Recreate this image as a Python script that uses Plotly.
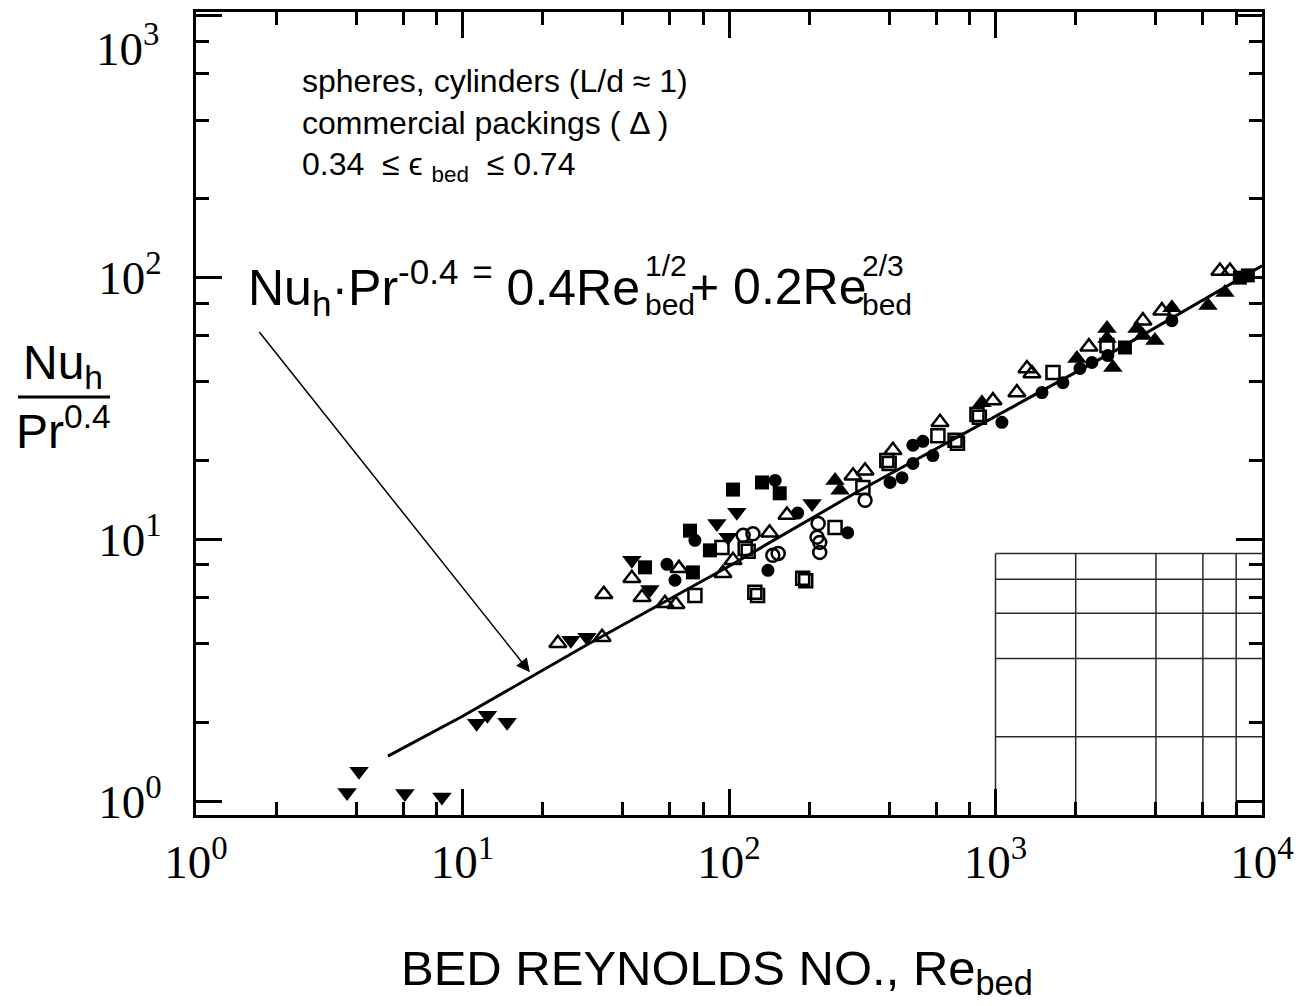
import math
import plotly.graph_objects as go

# ---------------- data ----------------
# filled down-triangles
fdown_re = [3.69, 4.09, 6.08, 8.37, 11.3, 12.4, 14.7, 25.5, 29.3, 43.2, 50.5, 90.1, 107, 99.1, 205]
fdown_nu = [1.08, 1.30, 1.07, 1.036, 1.985, 2.13, 2.00, 4.12, 4.23, 8.32, 6.44, 11.5, 12.7, 10.2, 13.7]

# filled squares
fsq_re = [48.4, 73.2, 71.4, 84.8, 103.5, 133, 155, 3060, 8260, 8850]
fsq_nu = [7.82, 7.48, 10.8, 9.08, 15.5, 16.5, 15.0, 54.1, 100, 102]

# filled circles
fcirc_re = [58.5, 62.7, 74.5, 149, 140, 181, 279, 402, 446, 490, 582, 490, 534,
            1057, 1494, 1791, 2075, 2300, 2640, 4590]
fcirc_nu = [8.03, 6.98, 9.92, 16.8, 7.62, 12.6, 10.6, 16.5, 17.2, 19.5, 20.9, 22.9, 23.7,
            28.0, 36.4, 39.7, 45.0, 47.4, 50.4, 68.5]

# open circles
ocirc_re = [113, 123, 146, 153, 216, 214, 219, 219, 324]
ocirc_nu = [10.36, 10.5, 8.69, 8.84, 11.5, 10.2, 9.74, 8.92, 14.1]

# open squares (several appear doubled)
osq_re = [74.5, 94.1, 115, 118, 125, 128, 189, 194, 250, 318, 391, 399, 608, 705, 720,
          852, 870, 1643, 2620]
osq_nu = [6.11, 9.32, 9.24, 9.0, 6.28, 6.1, 7.10, 6.95, 11.1, 15.8, 20.0, 19.5, 24.9, 23.9, 23.3,
          30.0, 29.3, 43.4, 55.0]

# open up-triangles (commercial packings)
otri_re = [22.8, 33.4, 33.9, 43.2, 47.2, 57.5, 63.2, 64.9, 94.9, 103.5, 142, 165, 292, 324,
           412, 619, 978, 1203, 1312, 1370, 2241, 3573, 4210, 6950, 7580]
otri_nu = [4.01, 4.23, 6.17, 7.10, 6.01, 5.70, 5.65, 7.75, 7.42, 8.32, 10.6, 12.4, 17.5, 18.3,
           21.9, 28.0, 33.9, 36.4, 45.0, 43.0, 54.5, 68.5, 74.8, 106, 106]

# filled up-triangles
ftri_re = [250, 261, 889, 2021, 2620, 2620, 2757, 3395, 3573, 3964, 4590, 6270, 7260]
ftri_nu = [16.8, 15.4, 33.3, 49.1, 63.9, 58.5, 45.4, 63.9, 60.1, 57.5, 76.8, 78.2, 87.7]

# correlation line  Nu_h Pr^-0.4 = 0.4 Re^1/2 + 0.2 Re^2/3
line_re = [5.25, 10, 30, 100, 300, 1000, 3000, 10000]
line_nu = [1.485, 2.11, 4.01, 7.9, 15.1, 29.5, 54.5, 111]

# arrow (tail -> head)
arrow_tail = (1.71, 62.8)
arrow_head = (17.9, 3.11)

# scanned graph-paper patch in lower right
patch_x = [1000, 2000, 4000, 6000, 8000]
patch_y = [1.76, 3.51, 5.22, 7.04, 8.84]

# axes
x_range_log = [0, 4]
y_range_log = [-0.053, 3.015]
x_major_vals = [1, 10, 100, 1000, 10000]
x_major_text = ["10<sup>0</sup>", "10<sup>1</sup>", "10<sup>2</sup>", "10<sup>3</sup>", "10<sup>4</sup>"]
y_major_vals = [1, 10, 100, 1000]
y_major_text = ["10<sup>0</sup>", "10<sup>1</sup>", "10<sup>2</sup>", ""]
y_top_label = "10<sup>3</sup>"
minor_vals = [2, 4, 6, 8, 20, 40, 60, 80, 200, 400, 600, 800, 2000, 4000, 6000, 8000]

# ---------------- layout geometry ----------------
W, H = 1305, 998
ML, MR, MT, MB = 188, 51, 4, 191
OFF = 8  # page body margin
PW, PH = W - ML - MR, H - MT - MB


def pxx(px):
    return (px - OFF - ML) / PW


def pxy(py):
    return (H - MB + OFF - py) / PH


# ---------------- figure ----------------
fig = go.Figure()

# graph-paper patch
gx, gy = [], []
y_bot = 10 ** y_range_log[0]
for xv in patch_x:
    gx += [xv, xv, None]
    gy += [y_bot, patch_y[-1], None]
for yv in patch_y:
    gx += [patch_x[0], 10 ** x_range_log[1], None]
    gy += [yv, yv, None]
fig.add_trace(go.Scatter(x=gx, y=gy, mode="lines",
                         line=dict(color="#2a2a2a", width=1.5), hoverinfo="skip", showlegend=False))

fig.add_trace(go.Scatter(x=line_re, y=line_nu, mode="lines",
                         line=dict(color="black", width=3), showlegend=False))


def add_markers(xs, ys, symbol, size, lw=2.5):
    fig.add_trace(go.Scatter(
        x=xs, y=ys, mode="markers", showlegend=False,
        marker=dict(symbol=symbol, size=size, color="black",
                    line=dict(color="black", width=lw))))


add_markers(osq_re, osq_nu, "square-open", 13)
add_markers(ocirc_re, ocirc_nu, "circle-open", 13)
add_markers(otri_re, otri_nu, "triangle-up-open", 15)
add_markers(fcirc_re, fcirc_nu, "circle", 13, 0)
add_markers(fsq_re, fsq_nu, "square", 14, 0)
add_markers(ftri_re, ftri_nu, "triangle-up", 17, 0)
add_markers(fdown_re, fdown_nu, "triangle-down", 17, 0)

axis_common = dict(
    type="log", showgrid=False, zeroline=False,
    showline=True, linecolor="black", linewidth=3, mirror="ticks",
    ticks="inside", ticklen=26, tickwidth=2.5, tickcolor="black",
    tickmode="array",
    tickfont=dict(family="Liberation Serif", size=47, color="black"),
    minor=dict(ticks="inside", ticklen=13, tickwidth=2.5, tickcolor="black",
               tickmode="array", tickvals=minor_vals, showgrid=False),
    automargin=False, ticklabeloverflow="allow",
)

fig.update_xaxes(**axis_common, range=x_range_log, tickvals=x_major_vals, ticktext=x_major_text,
                 ticklabelstandoff=4)
fig.update_yaxes(**axis_common, range=y_range_log, tickvals=y_major_vals, ticktext=y_major_text,
                 ticklabelstandoff=22)

# x-axis title
fig.add_annotation(xref="paper", yref="paper", x=pxx(717), y=pxy(972),
                   xanchor="center", yanchor="middle", showarrow=False,
                   text="BED REYNOLDS NO., Re<sub>bed</sub>",
                   font=dict(family="Liberation Sans", size=49, color="black"))

# top y label (drawn lower than its tick in the original)
fig.add_annotation(xref="paper", yref="paper", x=pxx(161), y=pxy(45),
                   xanchor="right", yanchor="middle", showarrow=False, text=y_top_label,
                   font=dict(family="Liberation Serif", size=47, color="black"))

# text block
fig.add_annotation(xref="paper", yref="paper", x=pxx(300), y=pxy(61),
                   xanchor="left", yanchor="top", align="left", showarrow=False,
                   text="spheres, cylinders (L/d \u2248 1)<br>commercial packings ( \u0394 )<br>"
                        "0.34  \u2264 \u03f5 <sub>bed</sub>  \u2264 0.74",
                   font=dict(family="Liberation Sans", size=32, color="black"))

# correlation formula, assembled from pieces so sub/superscripts stack
big = dict(family="Liberation Sans", size=50, color="black")
small = dict(family="Liberation Sans", size=30, color="black")
fig.add_annotation(xref="paper", yref="paper", x=pxx(246), y=pxy(287),
                   xanchor="left", yanchor="middle", showarrow=False,
                   text="Nu<sub>h</sub>\u00b7Pr<sup>-0.4</sup> <sup>=</sup> 0.4Re", font=big)
fig.add_annotation(xref="paper", yref="paper", x=pxx(688), y=pxy(287),
                   xanchor="left", yanchor="middle", showarrow=False,
                   text="+ 0.2Re", font=big)
for xp, sup in ((643, "1/2"), (860, "2/3")):
    fig.add_annotation(xref="paper", yref="paper", x=pxx(xp), y=pxy(265),
                       xanchor="left", yanchor="middle", showarrow=False, text=sup, font=small)
    fig.add_annotation(xref="paper", yref="paper", x=pxx(xp), y=pxy(304),
                       xanchor="left", yanchor="middle", showarrow=False, text="bed", font=small)

# arrow
fig.add_annotation(x=math.log10(arrow_head[0]), y=math.log10(arrow_head[1]),
                   ax=math.log10(arrow_tail[0]), ay=math.log10(arrow_tail[1]),
                   xref="x", yref="y", axref="x", ayref="y", text="",
                   showarrow=True, arrowhead=2, arrowsize=1.8, arrowwidth=1.5, arrowcolor="black")

# y-axis title as a fraction
fig.add_annotation(xref="paper", yref="paper", x=pxx(63), y=pxy(366),
                   xanchor="center", yanchor="middle", showarrow=False,
                   text="Nu<sub>h</sub>", font=dict(family="Liberation Sans", size=48, color="black"))
fig.add_annotation(xref="paper", yref="paper", x=pxx(63), y=pxy(428),
                   xanchor="center", yanchor="middle", showarrow=False,
                   text="Pr<sup>0.4</sup>", font=dict(family="Liberation Sans", size=48, color="black"))
fig.add_shape(type="line", xref="paper", yref="paper",
              x0=pxx(18), x1=pxx(110), y0=pxy(397), y1=pxy(397),
              line=dict(color="black", width=3))

fig.update_layout(
    width=W, height=H,
    margin=dict(l=ML, r=MR, t=MT, b=MB),
    paper_bgcolor="white", plot_bgcolor="white",
    showlegend=False,
)

fig.write_html("out.html")
